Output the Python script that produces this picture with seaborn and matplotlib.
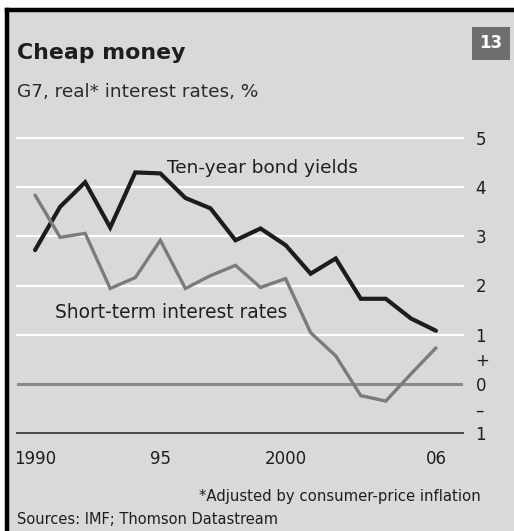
import matplotlib
matplotlib.use("Agg")
import matplotlib.pyplot as plt
import seaborn as sns
import pandas as pd

# G7 real interest rates, %
years = list(range(1990, 2007))
bond_yields = [2.72, 3.60, 4.10, 3.18, 4.30, 4.28, 3.78, 3.57, 2.92, 3.16,
               2.82, 2.24, 2.55, 1.73, 1.73, 1.33, 1.08]
short_rates = [3.84, 2.98, 3.06, 1.94, 2.16, 2.92, 1.94, 2.20, 2.41, 1.96,
               2.14, 1.04, 0.57, -0.24, -0.35, 0.20, 0.73]

ytick_vals = [-1, -0.5, 0, 0.5, 1, 2, 3, 4, 5]
ytick_labels = ["1", "\u2013", "0", "+", "1", "2", "3", "4", "5"]
xtick_vals = [1990, 1995, 2000, 2005, 2006]
xtick_labels = ["1990", "95", "2000", "", "06"]

df = pd.DataFrame({
    "year": years * 2,
    "rate": bond_yields + short_rates,
    "series": ["Ten-year bond yields"] * len(years)
              + ["Short-term interest rates"] * len(years),
})

sns.set_style("white")
plt.rcParams["font.family"] = ["DejaVu Sans"]

BG = "#d9d9d9"
INK = "#1e1e1e"
W, H = 514, 531
fig = plt.figure(figsize=(W / 100, H / 100), dpi=100, facecolor="white")

# panel background with heavy black frame on top and left
panel = fig.add_axes([7 / W, 0, 1 - 7 / W, 1 - 10 / H])
panel.set_facecolor(BG)
panel.set_xticks([])
panel.set_yticks([])
for side in ("right", "bottom"):
    panel.spines[side].set_visible(False)
for side in ("top", "left"):
    panel.spines[side].set_linewidth(3.2)
    panel.spines[side].set_color("black")

ax = fig.add_axes([17 / W, (H - 433) / H, (463 - 17) / W, (433 - 138) / H])
ax.set_facecolor("none")
ax.set_xlim(1989.28, 2007.08)
ax.set_ylim(-1, 5)

for v in [1, 2, 3, 4, 5]:
    ax.axhline(v, color="white", lw=1.6, zorder=1, clip_on=False)
ax.axhline(0, color="#8a8a8a", lw=2.2, zorder=1)

sns.lineplot(data=df, x="year", y="rate", hue="series",
             palette={"Ten-year bond yields": "#1c1c1c",
                      "Short-term interest rates": "#7b7b7b"},
             ax=ax, legend=False, zorder=3)
lines = ax.get_lines()[-2:]
lines[0].set_linewidth(3.0)
lines[1].set_linewidth(2.4)
for ln in lines:
    ln.set_solid_joinstyle("miter")

for s in ("top", "right", "left"):
    ax.spines[s].set_visible(False)
ax.spines["bottom"].set_color("#3c3c3c")
ax.spines["bottom"].set_linewidth(1.3)

ax.set_xticks(xtick_vals)
ax.set_xticklabels(xtick_labels)
ax.set_xticks(years, minor=True)
ax.tick_params(axis="x", which="major", direction="in", length=8, width=1.3,
               color="#3c3c3c", labelsize=12, pad=12, labelcolor=INK)
ax.tick_params(axis="x", which="minor", direction="in", length=3.5, width=1.3,
               color="#3c3c3c")
ax.xaxis.get_major_ticks()[4].tick1line.set_markersize(3.5)

ax.yaxis.tick_right()
ax.set_yticks(ytick_vals)
ax.set_yticklabels(ytick_labels)
ax.tick_params(axis="y", length=0, pad=9, labelsize=12, labelcolor=INK)
ax.set_xlabel("")
ax.set_ylabel("")

ax.text(1995.25, 4.38, "Ten-year bond yields", fontsize=13.3, color=INK,
        ha="left", va="center")
ax.text(1990.8, 1.45, "Short-term interest rates", fontsize=13.4,
        color=INK, ha="left", va="center")

fig.text(17 / W, 1 - 53 / H, "Cheap money", fontsize=15.8, fontweight="bold",
         color=INK, va="center", ha="left")
fig.text(17 / W, 1 - 92 / H, "G7, real* interest rates, %", fontsize=13.3,
         color="#2a2a2a", va="center", ha="left")
fig.text(491 / W, 1 - 43 / H, "13", fontsize=12, fontweight="bold",
         color="white", va="center", ha="center",
         bbox=dict(boxstyle="square,pad=0.45", fc="#6e6e6e", ec="none"))
fig.text(481 / W, 1 - 496 / H, "*Adjusted by consumer-price inflation",
         fontsize=10.7, color=INK, va="center", ha="right")
fig.text(17 / W, 1 - 519 / H, "Sources: IMF; Thomson Datastream",
         fontsize=10.5, color=INK, va="center", ha="left")

fig.savefig("out.png", dpi=100, facecolor="white")
